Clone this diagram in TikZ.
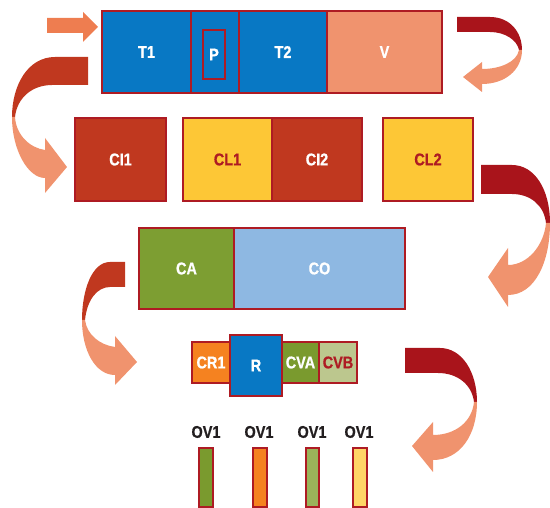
\documentclass[tikz,border=0pt]{standalone}
\usepackage{fontspec}
\setmainfont{Liberation Sans}[FakeStretch=0.85, BoldFeatures={FakeBold=0.8}]
\definecolor{edge}{HTML}{AE1B23}
\definecolor{cblue}{HTML}{0878C4}
\definecolor{csalmon}{HTML}{F0936E}
\definecolor{crust}{HTML}{C0381F}
\definecolor{cyellow}{HTML}{FDC736}
\definecolor{cgreen}{HTML}{7D9E32}
\definecolor{clblue}{HTML}{8EB8E2}
\definecolor{corange}{HTML}{F58220}
\definecolor{colive}{HTML}{7A9A2E}
\definecolor{cpale}{HTML}{BCC78E}
\definecolor{cmoss}{HTML}{9BB35A}
\definecolor{clyellow}{HTML}{FFD566}
\definecolor{crimson}{HTML}{A9141B}
\definecolor{entry}{HTML}{EE7D50}
\definecolor{ink}{HTML}{231F20}
\tikzset{
  cell/.style={draw=edge, line width=2pt, inner sep=0pt, text=white,
    font=\bfseries\fontsize{17}{17}\selectfont},
  darktext/.style={text=edge},
  bar/.style={draw=edge, line width=2pt, inner sep=0pt, minimum height=59pt},
  barlabel/.style={text=ink, inner sep=0pt, font=\bfseries\fontsize{17}{17}\selectfont},
  lefthead/.style={fill=crust},
  righthead/.style={fill=crimson},
  tail/.style={fill=csalmon},
}
\begin{document}
\begin{tikzpicture}[x=1pt, y=-1pt]
\useasboundingbox (0,0) rectangle (550,508);

% entry arrow
\fill[entry] (47,18) -- (83,18) -- (83,12) -- (98,27) -- (83,42) -- (83,33) -- (47,33) -- cycle;

% first row
\node[cell, fill=cblue, minimum width=89pt, minimum height=82pt] (t1) at (146.5,52) {T1};
\node[cell, fill=cblue, minimum width=48pt, minimum height=82pt] (pcell) at (215,52) {};
\node[cell, fill=cblue, minimum width=22pt, minimum height=49pt] (p) at (214,54.5) {P};
\node[cell, fill=cblue, minimum width=88pt, minimum height=82pt] (t2) at (283,52) {T2};
\node[cell, fill=csalmon, minimum width=115pt, minimum height=82pt] (v) at (384.5,52) {V};

% turn arrow, top right
\path[righthead] (457,17) -- (490,17) .. controls (510,17) and (522,32) .. (522,50)
  -- (519,50) .. controls (517,40) and (505,32) .. (490,32) -- (457,32) -- cycle;
\path[tail] (522,50) .. controls (522,70) and (505,84) .. (482,84) -- (482,92) -- (463,77)
  -- (482,62) -- (482,69) .. controls (500,69) and (517,62) .. (519,50) -- cycle;

% turn arrow, left of the second row
\path[lefthead] (88,57) -- (55,57) .. controls (28,57) and (12,85) .. (12,117)
  -- (15,117) .. controls (17,98) and (32,85) .. (52,85) -- (88,85) -- cycle;
\path[tail] (12,117) .. controls (12,150) and (28,178) .. (45,178) -- (45,193) -- (67,167)
  -- (45,138) -- (45,150) .. controls (30,148) and (16,135) .. (15,117) -- cycle;

% second row
\node[cell, fill=crust, minimum width=91pt, minimum height=83pt] (ci1) at (120.5,159.5) {CI1};
\node[cell, fill=cyellow, darktext, minimum width=89pt, minimum height=83pt] (cl1) at (227.5,159.5) {CL1};
\node[cell, fill=crust, minimum width=90pt, minimum height=83pt] (ci2) at (317,159.5) {CI2};
\node[cell, fill=cyellow, darktext, minimum width=90pt, minimum height=83pt] (cl2) at (428,159.5) {CL2};

% turn arrow, right of the third row
\path[righthead] (481,165) -- (512,165) .. controls (535,165) and (550,190) .. (550,223)
  -- (546,223) .. controls (544,205) and (530,194) .. (512,194) -- (481,194) -- cycle;
\path[tail] (550,223) .. controls (550,262) and (535,295) .. (508,295) -- (508,307) -- (488,277)
  -- (508,248) -- (508,265) .. controls (528,265) and (544,245) .. (546,223) -- cycle;

% third row
\node[cell, fill=cgreen, minimum width=95pt, minimum height=81pt] (ca) at (186.5,268.5) {CA};
\node[cell, fill=clblue, minimum width=171pt, minimum height=81pt] (co) at (319.5,268.5) {CO};

% turn arrow, left of the fourth row
\path[lefthead] (125,262) -- (110,262) .. controls (92,262) and (82,290) .. (82,320)
  -- (85,320) .. controls (87,300) and (97,287) .. (110,287) -- (125,287) -- cycle;
\path[tail] (82,320) .. controls (82,350) and (95,375) .. (115,375) -- (115,385) -- (137,362)
  -- (115,336) -- (115,347) .. controls (100,345) and (87,335) .. (85,320) -- cycle;

% fourth row
\node[cell, fill=corange, minimum width=38pt, minimum height=41pt] (cr1) at (211,362.5) {CR1};
\node[cell, fill=colive, minimum width=37pt, minimum height=41pt] (cva) at (300.5,362.5) {CVA};
\node[cell, fill=cpale, darktext, minimum width=38pt, minimum height=41pt] (cvb) at (338,362.5) {CVB};
\node[cell, fill=cblue, minimum width=52pt, minimum height=61pt] (r) at (256,365.5) {R};

% turn arrow, right of the fourth row
\path[righthead] (405,348) -- (440,348) .. controls (462,348) and (477,372) .. (477,402)
  -- (474,402) .. controls (472,385) and (458,373) .. (438,373) -- (405,373) -- cycle;
\path[tail] (477,402) .. controls (477,435) and (460,460) .. (433,460) -- (433,472) -- (412,446)
  -- (433,422) -- (433,435) .. controls (455,435) and (472,422) .. (474,402) -- cycle;

% bottom bars
\node[barlabel] (l1) at (206,432) {OV1};
\node[barlabel] (l2) at (259,432) {OV1};
\node[barlabel] (l3) at (312,432) {OV1};
\node[barlabel] (l4) at (359,432) {OV1};
\node[bar, fill=colive, minimum width=14pt] (b1) at (206,477.5) {};
\node[bar, fill=corange, minimum width=14pt] (b2) at (260,477.5) {};
\node[bar, fill=cmoss, minimum width=13pt] (b3) at (312.5,477.5) {};
\node[bar, fill=clyellow, minimum width=14pt] (b4) at (360,477.5) {};
\end{tikzpicture}
\end{document}
